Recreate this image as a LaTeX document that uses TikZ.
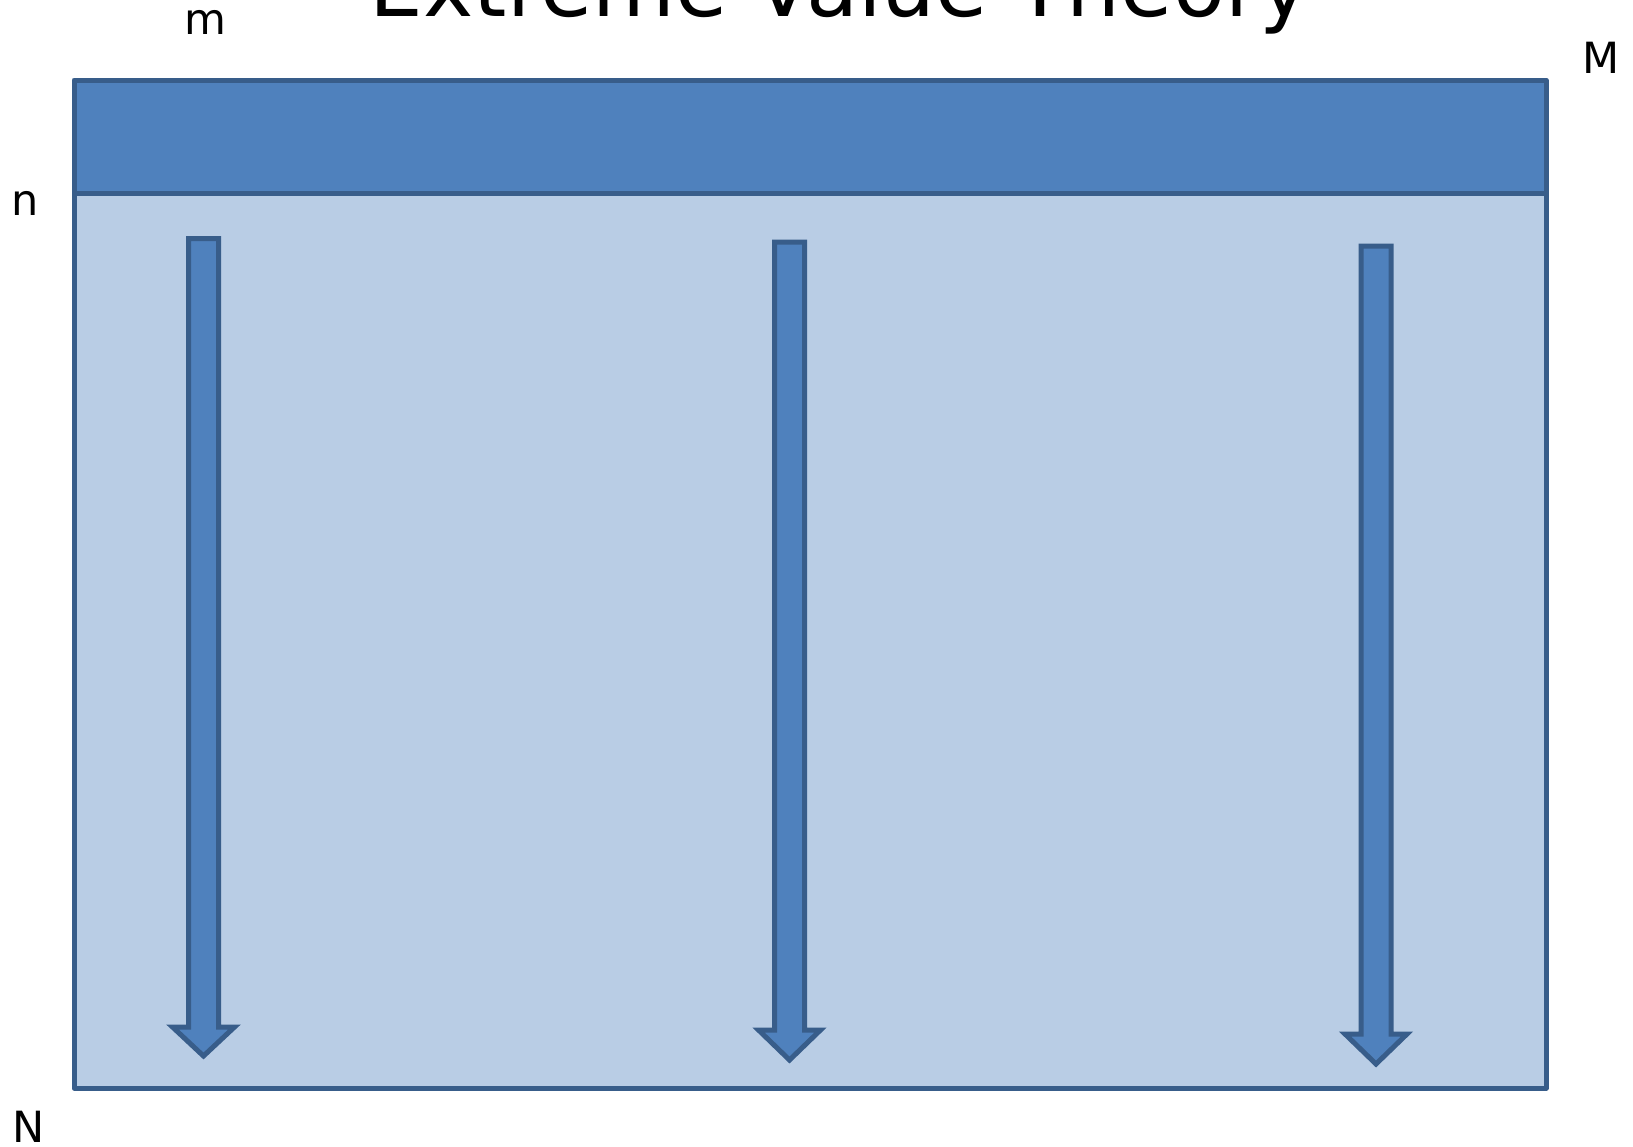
\documentclass[tikz,border=0pt]{standalone}
\usepackage{fontspec}
\setmainfont{DejaVu Sans}
\definecolor{hdr}{HTML}{4F81BD}
\definecolor{edge}{HTML}{385D8A}
\definecolor{body}{HTML}{B9CDE5}
\tikzset{
  box/.style={draw=edge, line width=5pt, line join=round},
  arr/.style={draw=edge, fill=hdr, line width=5pt, line join=miter},
  lbl/.style={inner sep=0pt, anchor=base, font=\fontsize{43}{43}\selectfont},
}
\newcommand{\downarrowshape}[4]{% center x, top y, head y, tip y
  \path[arr] ({#1-15},#2) -- ({#1+15},#2) -- ({#1+15},#3) -- ({#1+31},#3) -- (#1,#4) -- ({#1-31},#3) -- ({#1-15},#3) -- cycle;
}
\begin{document}
\begin{tikzpicture}[x=1pt,y=-1pt]
\useasboundingbox (0,0) rectangle (1633,1146);
\fill[white] (0,0) rectangle (1633,1146);
% body and header
\path[box, fill=body] (74,193) rectangle (1546,1088);
\path[box, fill=hdr] (74,80) rectangle (1546,193);
% arrows
\downarrowshape{203.5}{238.5}{1027}{1056}
\downarrowshape{789.5}{242}{1030}{1060}
\downarrowshape{1376}{246}{1034}{1064}
% title and labels
\node[inner sep=0pt, anchor=base, font=\fontsize{85}{85}\selectfont] (title) at (840,16) {Extreme Value Theory};
\node[lbl] (m) at (205,34) {m};
\node[lbl] (M) at (1601,73) {M};
\node[lbl] (n) at (25,215) {n};
\node[lbl] (N) at (29,1142) {N};
\end{tikzpicture}
\end{document}
